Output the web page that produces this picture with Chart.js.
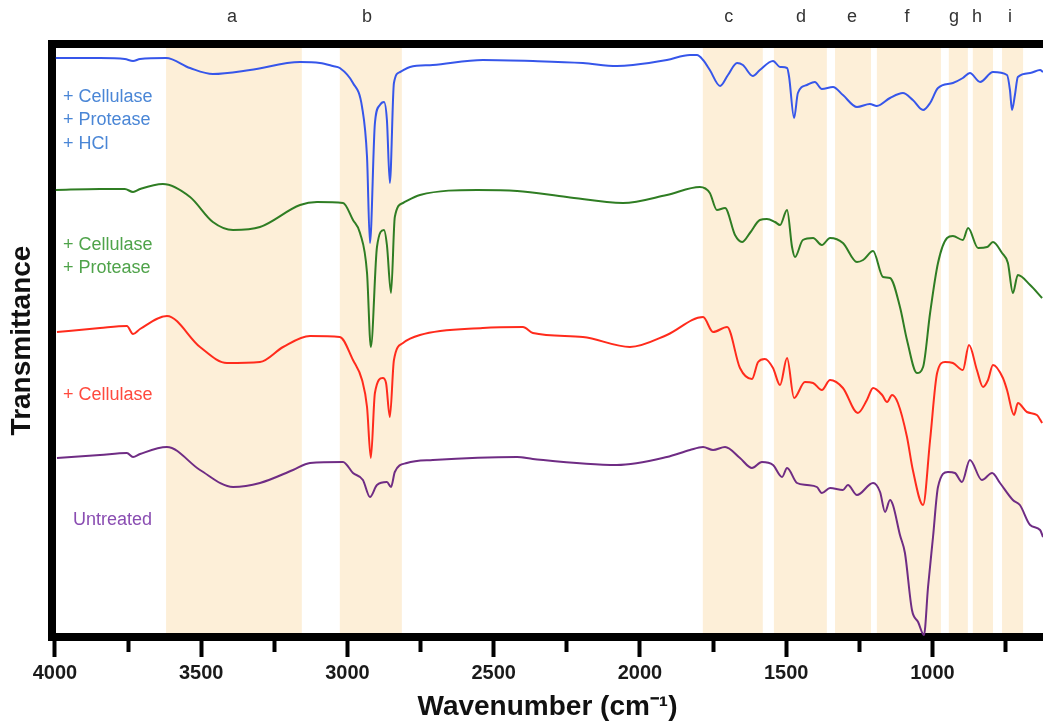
<!DOCTYPE html>
<html>
<head>
<meta charset="utf-8">
<script src="https://cdn.jsdelivr.net/npm/chart.js@4.4.1/dist/chart.umd.min.js"></script>
<style>
  html, body { margin: 0; padding: 0; background: #ffffff; }
  canvas { display: block; }
</style>
</head>
<body>
<canvas id="c" width="1043" height="724"></canvas>
<script>
// ---------- axis ticks ----------
const wavenumberTicks = [4000, 3750, 3500, 3250, 3000, 2750, 2500, 2250, 2000, 1750, 1500, 1250, 1000, 750];
const labeledTicks = [4000, 3500, 3000, 2500, 2000, 1500, 1000];

// ---------- highlighted bands ----------
const bandLabels = ['a', 'b', 'c', 'd', 'e', 'f', 'g', 'h', 'i'];
const bandStart = [3620, 3026, 1785, 1542, 1333, 1190, 944, 862, 762];
const bandEnd = [3156, 2814, 1580, 1361, 1210, 971, 879, 793, 690];
const bandLabelAt = [3395, 2933, 1696, 1449, 1275, 1087, 926, 848, 735];

// ---------- series names ----------
const seriesNames = [
  ['+ Cellulase', '+ Protease', '+ HCl'],
  ['+ Cellulase', '+ Protease'],
  ['+ Cellulase'],
  ['Untreated']
];

// ---------- spectra (wavenumber, offset transmittance, arb. units) ----------
const hclX = [3997,3846,3761,3733,3709,3620,3538,3460,3333,3162,3094,3050,3026,2981,2950,2933,2923,2906,2889,2875,2865,2855,2841,2820,2786,2708,2537,2366,2195,2079,2024,1908,1829,1805,1784,1761,1726,1699,1668,1648,1614,1590,1545,1521,1497,1490,1473,1460,1429,1402,1378,1340,1306,1258,1214,1190,1145,1101,1067,1032,1008,981,930,896,872,837,793,745,735,728,718,708,666,632,622];
const hclY = [582,582,581,579,581,582,572,566,570,578,577,574,572,557,533,483,397,517,535,538,520,457,557,568,573,575,580,579,577,574,575,580,585,585,580,570,554,565,577,575,564,570,579,573,572,563,522,547,555,558,551,553,545,533,536,534,542,547,540,530,537,552,557,562,567,558,568,565,550,530,545,563,567,570,568];

const proteaseX = [3997,3846,3761,3733,3709,3631,3538,3460,3391,3299,3162,3104,3015,2981,2957,2933,2920,2899,2875,2865,2851,2838,2810,2752,2557,2420,2250,2058,1908,1795,1761,1737,1709,1675,1651,1624,1590,1566,1538,1521,1497,1480,1470,1443,1408,1378,1350,1306,1258,1237,1203,1169,1145,1111,1087,1053,1032,1008,981,950,930,896,878,844,813,793,762,742,725,708,666,625];
const proteaseY = [450,451,451,448,451,456,443,418,410,413,435,438,437,420,407,367,293,393,410,395,347,423,437,445,450,449,443,437,445,453,447,430,432,405,398,407,420,421,418,415,430,393,383,400,402,395,402,397,378,380,389,363,362,333,300,267,273,327,377,402,404,400,412,392,393,398,387,377,347,365,355,342];

const cellulaseX = [3993,3846,3754,3733,3709,3617,3504,3412,3299,3220,3128,3026,2981,2950,2933,2920,2906,2879,2868,2855,2841,2810,2752,2537,2400,2366,2195,2034,1908,1784,1750,1702,1658,1617,1596,1573,1545,1521,1497,1473,1436,1408,1378,1350,1306,1255,1224,1203,1172,1155,1138,1118,1087,1067,1032,1008,984,957,930,896,875,848,827,810,793,759,745,721,708,677,643,625];
const cellulaseY = [308,312,314,306,311,324,293,277,278,293,304,303,280,260,233,182,247,262,257,223,280,297,305,312,313,307,303,293,305,323,308,313,272,261,278,281,272,255,282,242,258,257,250,260,252,227,240,252,245,238,245,237,203,170,135,200,267,278,277,270,295,270,253,260,275,262,250,225,237,228,225,217];

const untreatedX = [3993,3846,3754,3733,3709,3617,3504,3391,3299,3186,3128,3015,2981,2947,2923,2899,2865,2851,2838,2797,2708,2420,2366,2079,1908,1829,1784,1750,1709,1658,1617,1583,1545,1514,1497,1463,1429,1395,1378,1350,1306,1289,1258,1203,1179,1162,1145,1135,1111,1094,1070,1049,1029,1015,998,981,947,923,899,872,831,796,769,725,701,666,632,622];
const untreatedY = [182,185,187,183,186,193,170,153,157,170,177,178,167,160,143,155,158,153,168,177,180,183,181,175,183,190,193,190,193,182,172,178,175,163,172,157,155,153,147,152,150,155,145,157,148,128,140,135,105,87,30,18,5,53,103,153,168,167,158,180,160,167,157,140,135,115,110,103];

// ---------- build ----------
const pairs = (xs, ys) => xs.map((x, i) => ({ x: x, y: ys[i] }));
const FONT = '"Liberation Sans", Arial, Helvetica, sans-serif';

const bandPlugin = {
  id: 'bands',
  beforeDraw(chart, args, opts) {
    const { ctx, chartArea } = chart;
    const xs = chart.scales.x;
    ctx.save();
    ctx.fillStyle = '#ffffff';
    ctx.fillRect(0, 0, chart.width, chart.height);
    ctx.fillStyle = opts.color;
    for (let i = 0; i < bandStart.length; i++) {
      const a = xs.getPixelForValue(bandStart[i]);
      const b = xs.getPixelForValue(bandEnd[i]);
      ctx.fillRect(Math.min(a, b), chartArea.top, Math.abs(b - a), chartArea.bottom - chartArea.top);
    }
    ctx.restore();
  }
};

const labelPlugin = {
  id: 'seriesLabels',
  afterDatasetsDraw(chart, args, opts) {
    const ctx = chart.ctx;
    ctx.save();
    ctx.font = opts.font;
    ctx.textAlign = 'left';
    ctx.textBaseline = 'middle';
    opts.items.forEach((it, k) => {
      ctx.fillStyle = it.color;
      seriesNames[k].forEach((t, i) => ctx.fillText(t, it.x, it.y + i * it.lh));
    });
    ctx.restore();
  }
};

new Chart(document.getElementById('c'), {
  type: 'line',
  data: {
    datasets: [
      { label: '+ Cellulase + Protease + HCl', data: pairs(hclX, hclY), borderColor: '#3656ea' },
      { label: '+ Cellulase + Protease', data: pairs(proteaseX, proteaseY), borderColor: '#2f7d23' },
      { label: '+ Cellulase', data: pairs(cellulaseX, cellulaseY), borderColor: '#ff2b1c' },
      { label: 'Untreated', data: pairs(untreatedX, untreatedY), borderColor: '#6f2c84' }
    ].map(d => Object.assign(d, { borderWidth: 2, pointRadius: 0, fill: false, cubicInterpolationMode: 'monotone' }))
  },
  options: {
    responsive: false,
    animation: false,
    devicePixelRatio: 1,
    layout: { padding: 0 },
    plugins: {
      legend: { display: false },
      tooltip: { enabled: false },
      bands: { color: 'rgb(253,239,216)' },
      seriesLabels: {
        font: '18px ' + FONT,
        items: [
          { color: '#4a86d6', x: 63, y: 97, lh: 23.5 },
          { color: '#4fa34a', x: 63, y: 245, lh: 23.5 },
          { color: '#ff4a3e', x: 63, y: 395, lh: 23.5 },
          { color: '#8a4db2', x: 73, y: 520, lh: 23.5 }
        ]
      }
    },
    scales: {
      x: {
        type: 'linear', position: 'bottom', reverse: true, min: 622, max: 4010,
        afterBuildTicks: s => { s.ticks = wavenumberTicks.map(v => ({ value: v })); },
        afterFit: s => { s.height = 87; },
        ticks: {
          autoSkip: false, maxRotation: 0, minRotation: 0, padding: 4, color: '#1a1a1a',
          font: { family: FONT, size: 20, weight: 'bold' },
          callback: v => labeledTicks.includes(v) ? String(v) : ''
        },
        grid: {
          display: true, drawOnChartArea: false, drawTicks: true, tickLength: 20,
          tickWidth: 4, tickColor: '#000',
          tickBorderDash: c => (c.tick && labeledTicks.includes(c.tick.value)) ? [] : [11, 100]
        },
        border: { display: true, width: 8, color: '#000' },
        title: {
          display: true, text: 'Wavenumber (cm\u207B\u00B9)', color: '#111',
          font: { family: FONT, size: 28, weight: 'bold' }, padding: { top: 0, bottom: 0 }
        }
      },
      x2: {
        type: 'linear', position: 'top', reverse: true, min: 622, max: 4010,
        afterBuildTicks: s => { s.ticks = bandLabelAt.map(v => ({ value: v })); },
        afterFit: s => { s.height = 44; },
        ticks: {
          autoSkip: false, maxRotation: 0, minRotation: 0, padding: 8, color: '#333',
          font: { family: FONT, size: 18 },
          callback: (v, i) => bandLabels[i]
        },
        grid: { display: false },
        border: { display: true, width: 8, color: '#000' }
      },
      y: {
        type: 'linear', position: 'left', min: 3, max: 596,
        afterFit: s => { s.width = 52; },
        ticks: { display: false },
        grid: { display: false },
        border: { display: true, width: 8, color: '#000' },
        title: {
          display: true, text: 'Transmittance', color: '#111',
          font: { family: FONT, size: 28, weight: 'bold' }, padding: { top: 5, bottom: 0 }
        }
      }
    }
  },
  plugins: [bandPlugin, labelPlugin]
});
</script>
</body>
</html>
